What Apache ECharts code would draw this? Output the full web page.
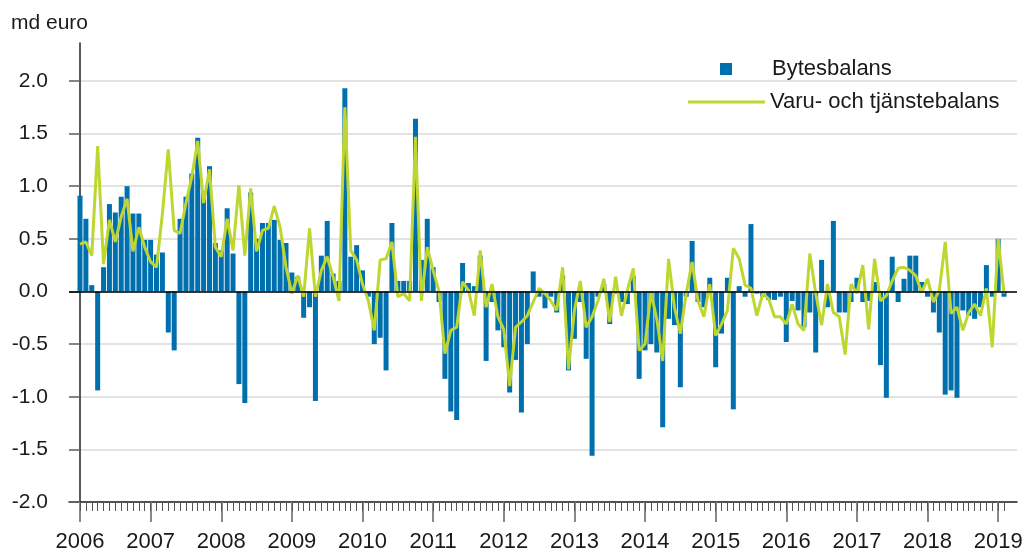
<!DOCTYPE html>
<html>
<head>
<meta charset="utf-8">
<script src="https://cdn.jsdelivr.net/npm/echarts@6/dist/echarts.min.js"></script>
<style>
html, body { margin: 0; padding: 0; background: #fff; }
#chart { width: 1026px; height: 554px; }
</style>
</head>
<body>
<div id="chart"></div>
<script>
// tick labels
var yearLabels = ['2006', '2007', '2008', '2009', '2010', '2011', '2012', '2013', '2014', '2015', '2016', '2017', '2018', '2019'];
var yTicks = [-2.0, -1.5, -1.0, -0.5, 0.0, 0.5, 1.0, 1.5, 2.0];

// monthly values, md euro, from 2006-01 to 2019-02
var bytesbalans = [
    0.91, 0.69, 0.06, -0.94, 0.23, 0.83, 0.75, 0.9, 1.0, 0.74, 0.74, 0.49,
    0.49, 0.35, 0.37, -0.39, -0.56, 0.69, 0.9, 1.12, 1.46, 0.95, 1.19, 0.46,
    0.39, 0.79, 0.36, -0.88, -1.06, 0.94, 0.5, 0.65, 0.65, 0.68, 0.49, 0.46,
    0.18, 0.14, -0.25, -0.15, -1.04, 0.34, 0.67, 0.17, 0.1, 1.93, 0.33, 0.44,
    0.2, -0.05, -0.5, -0.44, -0.75, 0.65, 0.1, 0.1, 0.1, 1.64, 0.3, 0.69,
    0.23, -0.1, -0.83, -1.14, -1.22, 0.27, 0.08, 0.05, 0.34, -0.66, -0.1, -0.37,
    -0.53, -0.96, -0.65, -1.15, -0.5, 0.19, -0.05, -0.16, -0.05, -0.2, 0.15, -0.75,
    -0.45, -0.1, -0.64, -1.56, -0.05, 0.07, -0.31, -0.02, -0.1, -0.12, 0.15, -0.83,
    -0.56, -0.5, -0.58, -1.29, -0.26, -0.32, -0.91, -0.05, 0.48, -0.1, -0.15, 0.13,
    -0.72, -0.4, 0.13, -1.12, 0.05, -0.05, 0.64, -0.02, -0.05, -0.08, -0.08, -0.05,
    -0.48, -0.09, -0.18, -0.34, -0.2, -0.58, 0.3, -0.15, 0.67, -0.2, -0.2, -0.1,
    0.13, -0.1, -0.09, 0.09, -0.7, -1.01, 0.33, -0.1, 0.12, 0.34, 0.34, 0.09,
    -0.05, -0.2, -0.39, -0.98, -0.94, -1.01, -0.18, -0.23, -0.26, -0.15, 0.25, -0.05,
    0.5, -0.05
];
var varuTjanst = [
    0.45, 0.47, 0.34, 1.38, 0.26, 0.68, 0.47, 0.71, 0.88, 0.38, 0.61, 0.42,
    0.28, 0.23, 0.74, 1.35, 0.58, 0.55, 0.84, 1.09, 1.43, 0.84, 1.16, 0.42,
    0.33, 0.69, 0.39, 1.01, 0.34, 0.98, 0.38, 0.58, 0.6, 0.81, 0.61, 0.23,
    -0.02, 0.15, -0.05, 0.6, -0.05, 0.2, 0.33, 0.14, -0.09, 1.75, 0.39, 0.3,
    0.07, -0.09, -0.37, 0.3, 0.31, 0.47, -0.05, -0.02, -0.09, 1.47, -0.09, 0.42,
    0.2, 0.0, -0.59, -0.37, -0.34, 0.09, 0.01, -0.23, 0.39, -0.15, 0.07, -0.24,
    -0.36, -0.9, -0.34, -0.29, -0.23, -0.1, 0.03, -0.02, -0.09, -0.18, 0.23, -0.74,
    -0.18, 0.1, -0.34, -0.24, -0.09, 0.12, -0.29, 0.14, -0.23, 0.01, 0.22, -0.56,
    -0.5, -0.01, -0.26, -0.66, 0.31, -0.15, -0.4, -0.02, 0.28, -0.09, -0.24, 0.07,
    -0.42, -0.31, -0.18, 0.41, 0.31, 0.06, 0.03, -0.23, -0.02, -0.07, -0.24, -0.24,
    -0.31, -0.12, -0.31, -0.37, 0.36, -0.02, -0.32, 0.07, -0.2, -0.24, -0.6, 0.07,
    -0.02, 0.25, -0.36, 0.31, -0.09, -0.04, 0.1, 0.22, 0.23, 0.2, 0.15, -0.01,
    0.12, -0.1, 0.01, 0.47, -0.21, -0.15, -0.37, -0.2, -0.12, -0.23, 0.03, -0.53,
    0.5, -0.02
];

var font = "'Liberation Sans', Arial, sans-serif";
var blue = '#006fae';
var green = '#bed62f';

// x is the month number counted from 2006-01
var yearPos = yearLabels.map(function (y, k) { return k * 12; });
var monthPos = bytesbalans.map(function (v, i) { return i; });
var xMin = -1.87, xMax = 159.2;

var chart = echarts.init(document.getElementById('chart'));
var option = {
    animation: false,
    title: {
        text: 'md euro',
        left: 11,
        top: 13,
        padding: 0,
        textStyle: { fontFamily: font, fontSize: 21, fontWeight: 'normal', color: '#1a1a1a' }
    },
    legend: [{
        data: ['Bytesbalans'],
        left: 720,
        top: 58,
        padding: 0,
        icon: 'rect',
        itemWidth: 12,
        itemHeight: 12,
        textStyle: { fontFamily: font, fontSize: 22, color: '#1a1a1a', padding: [0, 0, 0, 35] }
    }, {
        data: ['Varu- och tjänstebalans'],
        left: 688,
        top: 91,
        padding: 0,
        icon: 'rect',
        itemWidth: 77,
        itemHeight: 3,
        textStyle: { fontFamily: font, fontSize: 22, color: '#1a1a1a' }
    }],
    grid: [
        { left: 69, right: 9, top: 43, bottom: 52 },
        { left: 69, right: 9, top: 43, bottom: 52 }
    ],
    xAxis: [{
        type: 'value',
        gridIndex: 0,
        min: xMin,
        max: xMax,
        axisLine: { onZero: false, lineStyle: { color: '#222', width: 1.5 } },
        axisTick: { customValues: yearPos, length: 20, lineStyle: { color: '#888', width: 2 } },
        axisLabel: {
            customValues: yearPos,
            margin: 29,
            fontFamily: font,
            fontSize: 22,
            color: '#1a1a1a',
            formatter: function (v) { return yearLabels[Math.round(v / 12)]; }
        },
        splitLine: { show: false }
    }, {
        type: 'value',
        gridIndex: 1,
        min: xMin,
        max: xMax,
        axisLine: { show: false },
        axisTick: { customValues: monthPos, length: 9, lineStyle: { color: '#555', width: 1 } },
        axisLabel: { show: false },
        splitLine: { show: false }
    }],
    yAxis: [{
        type: 'value',
        gridIndex: 0,
        min: -2,
        max: 2.36,
        axisLine: { show: true, lineStyle: { color: '#222', width: 1.5 } },
        axisTick: { show: true, customValues: yTicks, length: 11, lineStyle: { color: '#666', width: 1.5 } },
        axisLabel: {
            customValues: yTicks,
            margin: 21,
            fontFamily: font,
            fontSize: 21,
            color: '#1a1a1a',
            formatter: function (v) { return v.toFixed(1); }
        },
        splitLine: { show: true, lineStyle: { color: '#dadada', width: 1.5 } }
    }, {
        type: 'value',
        gridIndex: 1,
        min: 0,
        max: 1,
        show: false
    }],
    series: [{
        name: 'Bytesbalans',
        type: 'bar',
        xAxisIndex: 0,
        yAxisIndex: 0,
        barWidth: 5,
        itemStyle: { color: blue },
        data: bytesbalans.map(function (v, i) { return [i, v]; }),
        markLine: {
            silent: true,
            symbol: 'none',
            label: { show: false },
            lineStyle: { color: '#000', width: 1.5, type: 'solid' },
            data: [{ yAxis: 0 }]
        },
        z: 2
    }, {
        name: 'Varu- och tjänstebalans',
        type: 'line',
        xAxisIndex: 0,
        yAxisIndex: 0,
        showSymbol: false,
        symbol: 'none',
        itemStyle: { color: green },
        lineStyle: { color: green, width: 3 },
        data: varuTjanst.map(function (v, i) { return [i, v]; }),
        z: 3
    }]
};
chart.setOption(option);
</script>
</body>
</html>
